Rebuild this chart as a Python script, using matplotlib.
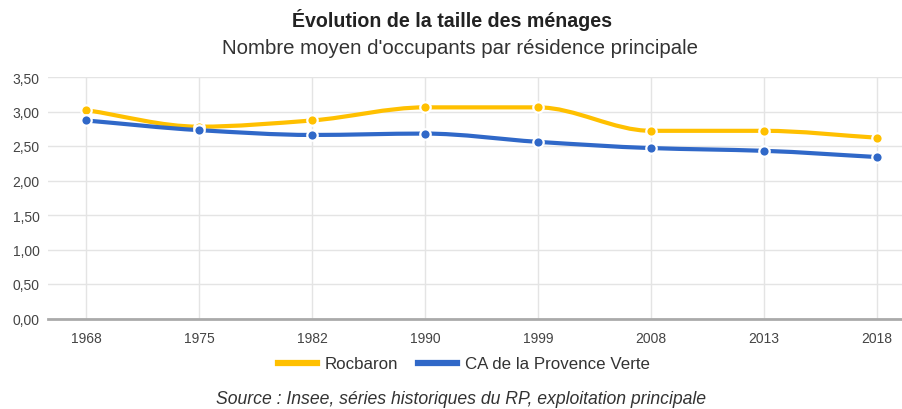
import numpy as np
import matplotlib
matplotlib.use("Agg")
import matplotlib.pyplot as plt
from matplotlib.path import Path
from matplotlib.patches import PathPatch
from matplotlib.lines import Line2D

plt.rcParams['font.family'] = ['Liberation Sans', 'DejaVu Sans']

annees = ['1968', '1975', '1982', '1990', '1999', '2008', '2013', '2018']
rocbaron = [3.02, 2.78, 2.87, 3.06, 3.06, 2.72, 2.72, 2.62]
provence_verte = [2.87, 2.73, 2.66, 2.68, 2.56, 2.47, 2.43, 2.34]

jaune = '#ffc000'
bleu = '#3068c8'


def monotone_path(x, y):
    # courbe lissée monotone (Fritsch-Carlson) en segments de Bézier
    x = np.asarray(x, float)
    y = np.asarray(y, float)
    h = np.diff(x)
    d = np.diff(y) / h
    m = np.zeros_like(y)
    m[0], m[-1] = d[0], d[-1]
    for i in range(1, len(y) - 1):
        if d[i - 1] * d[i] <= 0:
            m[i] = 0
        else:
            m[i] = 2 / (1 / d[i - 1] + 1 / d[i])
    verts = [(x[0], y[0])]
    codes = [Path.MOVETO]
    for i in range(len(h)):
        verts += [(x[i] + h[i] / 3, y[i] + m[i] * h[i] / 3),
                  (x[i + 1] - h[i] / 3, y[i + 1] - m[i + 1] * h[i] / 3),
                  (x[i + 1], y[i + 1])]
        codes += [Path.CURVE4] * 3
    return Path(verts, codes)


fig = plt.figure(figsize=(9.03, 4.10), dpi=100)
ax = fig.add_axes([48 / 903, 1 - 319.5 / 410, 855 / 903, (319.5 - 78) / 410])

xs = np.arange(len(annees))
for serie, couleur in [(rocbaron, jaune), (provence_verte, bleu)]:
    ax.add_patch(PathPatch(monotone_path(xs, serie), facecolor='none',
                           edgecolor=couleur, lw=3, capstyle='round', zorder=3))
    ax.plot(xs, serie, 'o', color=couleur, ms=7.5, mec='white', mew=1.6, zorder=4)

ax.set_xlim(-0.336, 7.23)
ax.set_ylim(0, 3.5)
ax.set_xticks(xs)
ax.set_xticklabels(annees)
yt = np.arange(0, 3.51, 0.5)
ax.set_yticks(yt)
ax.set_yticklabels([f"{v:.2f}".replace('.', ',') for v in yt])
ax.tick_params(length=0, labelsize=10, colors='#444444', pad=6)
ax.tick_params(axis='x', pad=9)
ax.grid(True, color='#e4e4e4', lw=1)
ax.set_axisbelow(True)
for s in ['top', 'right', 'left']:
    ax.spines[s].set_visible(False)
ax.spines['bottom'].set_color('#aaaaaa')
ax.spines['bottom'].set_linewidth(2)

fig.text(452 / 903, 1 - 20 / 410, "Évolution de la taille des ménages", ha='center',
         va='center', fontsize=14.1, fontweight='bold', color='#222222')
fig.text(460 / 903, 1 - 48 / 410, "Nombre moyen d'occupants par résidence principale",
         ha='center', va='center', fontsize=14.7, color='#333333')

handles = [Line2D([], [], color=jaune, lw=4.5), Line2D([], [], color=bleu, lw=4.5)]
fig.legend(handles, ['Rocbaron', 'CA de la Provence Verte'], loc='center',
           bbox_to_anchor=(464 / 903, 1 - 365 / 410), ncol=2, frameon=False,
           fontsize=12.2, handlelength=2.3, columnspacing=1.2, handletextpad=0.45,
           labelcolor='#333333')

fig.text(461 / 903, 1 - 400 / 410, "Source : Insee, séries historiques du RP, exploitation principale",
         ha='center', va='center', fontsize=12.7, style='italic', color='#333333')

fig.savefig('out.png', dpi=100)
